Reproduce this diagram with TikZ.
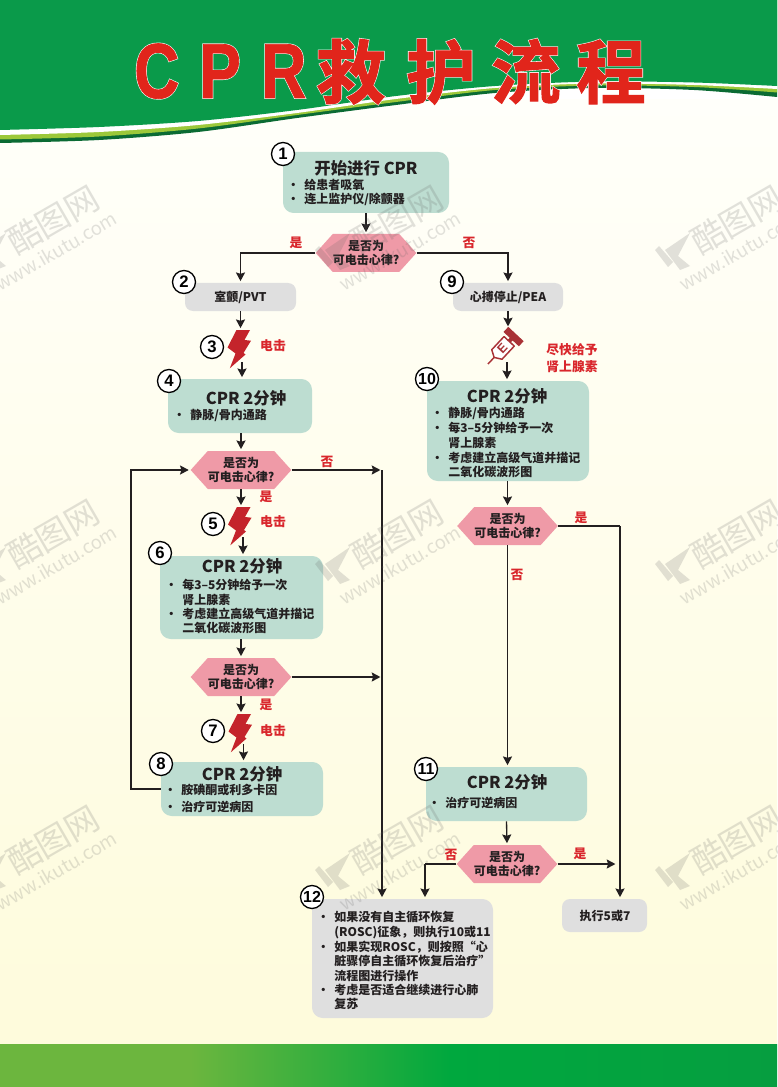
\documentclass[tikz,border=0pt]{standalone}
\usepackage{fontspec}
\usetikzlibrary{arrows.meta,shapes.symbols}
\setmainfont{Noto Sans CJK SC}
\newfontfamily\tlat{Liberation Sans Bold}[FakeStretch=0.8,FakeBold=0.9]
\newfontfamily\tlatw{Liberation Sans Bold}[FakeStretch=0.8,FakeBold=2.4]
\newfontfamily\tcjk{Noto Sans CJK SC Bold}[FakeBold=1.6]
\newfontfamily\tcjkw{Noto Sans CJK SC Bold}[FakeBold=3.2]
\newfontfamily\numf{Liberation Sans Bold}
\newdimen\px \px=0.75pt
\definecolor{hdrgreen}{HTML}{0A9A4A}
\definecolor{hdrdark}{HTML}{0B6B34}
\definecolor{hdrlime}{HTML}{9CC83A}
\definecolor{boxgreen}{HTML}{BDDDD1}
\definecolor{hexpink}{HTML}{EF9AA7}
\definecolor{boxgray}{HTML}{DFDFDF}
\definecolor{ink}{HTML}{231F20}
\definecolor{lab}{HTML}{D9262C}
\definecolor{boltred}{HTML}{C4242B}
\definecolor{syr}{HTML}{A93236}
\definecolor{pagetop}{HTML}{FFFFFA}
\definecolor{pagebot}{HTML}{FEFBDA}
\tikzset{
  gbox/.style={draw=none,fill=boxgreen,rounded corners=8pt,inner sep=0pt},
  gybox/.style={draw=none,fill=boxgray,rounded corners=8pt,inner sep=0pt},
  gysmall/.style={draw=none,fill=boxgray,rounded corners=6pt,inner sep=0pt,font=\fontsize{9}{11}\selectfont\bfseries,text=ink},
  hexa/.style={shape=signal,signal to=east and west,signal pointer angle=96,fill=hexpink,draw=none,
    minimum width=74.25pt,minimum height=28.5pt,inner sep=0pt,align=center,text=ink,
    font=\fontsize{9}{10.8}\selectfont\bfseries},
  numc/.style={circle,draw=black,line width=1pt,fill=white,inner sep=0pt,minimum size=17.25pt,
    font=\fontsize{12.5}{14}\numf,text=black},
  arr/.style={draw=ink,line width=1pt,-{Stealth[length=6.5pt,width=6.8pt,inset=1pt]},shorten >=1.2pt},
  lin/.style={draw=ink,line width=1pt},
  ttlb/.style={font=\fontsize{12.3}{15}\selectfont\bfseries,text=ink,inner sep=0pt},
  itm/.style={anchor=west,align=left,inner sep=0pt,text=ink,font=\fontsize{9}{10.9}\selectfont\bfseries},
  rlab/.style={text=lab,inner sep=0pt,align=center,font=\fontsize{9.6}{12.8}\selectfont\bfseries},
  boltnode/.style={inner sep=0pt,minimum width=17pt,minimum height=28.5pt},
  wm/.style={text=black!62,opacity=.19,inner sep=0pt},
}
\newcommand\bul{\llap{·\hspace{3.6pt}}}
\newcommand\rbox[6]{\node[#1,minimum width={(#5-#3)*0.75pt},minimum height={(#6-#4)*0.75pt}] (#2) at ({(#3+#5)/2},{(#4+#6)/2}) {};}
\newcommand\boltat[3]{%
  \node[boltnode] (#1) at (#2,{#3+19}) {};
  \fill[boltred,shift={(#2,#3)}] (-4,0)--(9.5,0)--(4,10)--(10.5,10.7)--(3,23)--(5,24.5)--(-10.7,38.3)--(-5,23.5)--(-13,17.5)--cycle;}
\newcommand\tg[2]{\makebox[#1\px][l]{#2}}
\begin{document}
\begin{tikzpicture}[x=0.75pt,y=-0.75pt]
\useasboundingbox (0,0) rectangle (777,1087);
% background
\shade[top color=pagetop,bottom color=pagebot] (0,100) rectangle (777,1087);
% header bands
\fill[hdrdark] (0,0) -- (777,0) -- plot[smooth] coordinates {(777,97)(694,90)(595,88)(495,93)(396,105)(297,118)(198,132)(99,140)(0,143)} -- cycle;
\fill[hdrlime] (0,0) -- (777,0) -- plot[smooth] coordinates {(777,92.5)(694,87)(595,85.5)(495,90)(396,102)(297,115)(198,128.5)(99,136.5)(0,139.5)} -- cycle;
\fill[white] (0,0) -- (777,0) -- plot[smooth] coordinates {(777,89)(694,85)(595,83.5)(495,88)(396,99)(297,113)(198,125)(99,132)(0,135)} -- cycle;
\fill[hdrgreen] (0,0) -- (777,0) -- plot[smooth] coordinates {(777,86)(694,82.5)(595,81.5)(495,86)(396,96)(297,110)(198,121)(99,127)(0,130)} -- cycle;
% bottom band
\fill[color={rgb,255:red,108;green,182;blue,62}] (0,1044) rectangle (190,1087);
\shade[left color={rgb,255:red,108;green,182;blue,62},right color={rgb,255:red,0;green,168;blue,62}] (190,1044) rectangle (450,1087);
\shade[left color={rgb,255:red,0;green,168;blue,62},right color={rgb,255:red,6;green,158;blue,64}] (450,1044) rectangle (777,1087);
% title
\node[anchor=base west,inner sep=0pt,text=white] (titleback) at (134,98) {\fontsize{58.5}{60}\tg{65}{\tlatw C}\tg{62}{\tlatw P}\tg{55}{\tlatw R}\fontsize{52}{60}\tg{90}{\tcjkw 救}\tg{85}{\tcjkw 护}\tg{85}{\tcjkw 流}\tg{70}{\tcjkw 程}};
\node[anchor=base west,inner sep=0pt,text={rgb,255:red,225;green,37;blue,27}] (title) at (134,98) {\fontsize{58.5}{60}\tg{65}{\tlat C}\tg{62}{\tlat P}\tg{55}{\tlat R}\fontsize{52}{60}\tg{90}{\tcjk 救}\tg{85}{\tcjk 护}\tg{85}{\tcjk 流}\tg{70}{\tcjk 程}};
% boxes
\rbox{gbox}{b1}{283}{152}{449}{213}
\rbox{gysmall}{bx2}{185}{283}{296}{311}
\rbox{gysmall}{bx9}{453}{283}{563}{311}
\rbox{gbox}{b4}{168}{379}{312}{433}
\rbox{gbox}{b10}{427}{381}{589}{481}
\rbox{gbox}{b6}{160}{556}{323}{639}
\rbox{gbox}{b8}{161}{762}{323}{816}
\rbox{gbox}{b11}{426}{767}{587}{821}
\rbox{gybox}{b12}{312}{899}{493}{1018}
\rbox{gysmall}{b57}{562}{899}{647}{932}
\node[font=\fontsize{9}{11}\selectfont\bfseries,text=ink] (t2) at (240.5,297) {室颤/PVT};
\node[font=\fontsize{9}{11}\selectfont\bfseries,text=ink] (t9) at (508,297) {心搏停止/PEA};
\node[font=\fontsize{9}{11}\selectfont\bfseries,text=ink] (t57) at (605,916) {执行5或7};
% decisions
\node[hexa] (h1) at (366,253) {是否为\\可电击心律?};
\node[hexa] (h2) at (241,470) {是否为\\可电击心律?};
\node[hexa] (h3) at (241,677) {是否为\\可电击心律?};
\node[hexa] (h4) at (507.5,526) {是否为\\可电击心律?};
\node[hexa] (h5) at (507,864) {是否为\\可电击心律?};
% bolts
\boltat{s3}{240.5}{330}
\boltat{s5}{241}{507}
\boltat{s7}{241.5}{714}
\coordinate (c3) at (242,362);
\coordinate (c5) at (243,537);
\coordinate (c7) at (243.5,744);
% syringe
\node[inner sep=0pt,minimum width=27pt,minimum height=18pt] (syringe) at (507,345) {};
\coordinate (syrin) at (508,328);
\coordinate (syrout) at (507,362);
\begin{scope}[shift={(488,364)},rotate=47]
  \draw[syr,line width=1.1pt] (0,0)--(9,0);
  \draw[syr,line width=1.1pt,fill=white,line join=round] (9,0)--(13,-7)--(31,-7)--(31,7)--(13,7)--cycle;
  \fill[syr] (31,-2)--(34,-2)--(34,-10.5)--(41,-10.5)--(41,10.5)--(34,10.5)--(34,2)--(31,2)--cycle;
  \node[rotate=47,text=syr,inner sep=0pt,font=\fontsize{9.5}{10}\numf] (syrE) at (21,0) {E};
\end{scope}
% connectors
\coordinate (j1) at (382,470);
\coordinate (j3) at (382,677);
\coordinate (j4) at (620,526);
\coordinate (j5) at (617,864);
\coordinate (j6) at (425,864);
\coordinate (lp) at (131,789);
\draw[arr] (b1.south) -- (h1.north);
\draw[arr] (h1.west) -| (bx2.north);
\draw[arr] (h1.east) -| (bx9.north);
\draw[arr] (bx2.south) -- (s3.north);
\draw[arr] (c3) -- (c3 |- b4.north);
\draw[arr] (h2.north |- b4.south) -- (h2.north);
\draw[arr] (h2.east) -- (j1);
\draw[arr] (h2.south) -- (s5.north -| h2.south);
\draw[arr] (c5) -- (c5 |- b6.north);
\draw[arr] (h3.north |- b6.south) -- (h3.north);
\draw[arr] (h3.east) -- (j3);
\draw[arr] (h3.south) -- (s7.north -| h3.south);
\draw[arr] (c7) -- (c7 |- b8.north);
\draw[arr] (b8.west) -- (lp) |- (h2.west);
\draw[arr] (j1) -- (j1 |- b12.north);
\draw[arr] (bx9.south -| syrin) -- (syrin);
\draw[arr] (syrout) -- (syrout |- b10.north);
\draw[arr] (h4.north |- b10.south) -- (h4.north);
\draw[arr] (h4.south) -- (h4.south |- b11.north);
\draw[lin] (h4.east) -- (j4);
\draw[arr] (j4) -- (j4 |- b57.north);
\draw[arr] (b11.south) -- (h5.north);
\draw[arr] (h5.east) -- (j5);
\draw[lin] (h5.west) -- (j6);
\draw[arr] (j6) -- (j6 |- b12.north);
% number badges
\node[numc] (n1) at (283,154) {1};
\node[numc] (n2) at (184,282) {2};
\node[numc] (n3) at (212,347) {3};
\node[numc] (n4) at (169,381) {4};
\node[numc] (n5) at (213,524) {5};
\node[numc] (n6) at (160,553) {6};
\node[numc] (n7) at (213,731) {7};
\node[numc] (n8) at (161,764) {8};
\node[numc] (n9) at (452,282) {9};
\node[numc,font=\fontsize{12}{14}\numf] (n10) at (427,379) {10};
\node[numc,font=\fontsize{12}{14}\numf] (n11) at (426,769) {11};
\node[numc,font=\fontsize{12}{14}\numf] (n12) at (312,897) {12};
% titles
\node[ttlb] (t1) at (366,168) {开始进行 CPR};
\node[ttlb] (t4) at (246,398) {CPR 2分钟};
\node[ttlb] (t10) at (507,396) {CPR 2分钟};
\node[ttlb] (t6) at (242,566) {CPR 2分钟};
\node[ttlb] (t8) at (242,774) {CPR 2分钟};
\node[ttlb] (t11) at (507,782) {CPR 2分钟};
% body text
\node[itm] (i11) at (304,185) {\bul 给患者吸氧};
\node[itm] (i12) at (304,199) {\bul 连上监护仪/除颤器};
\node[itm] (i41) at (190,415) {\bul 静脉/骨内通路};
\node[itm] (i101) at (448,413) {\bul 静脉/骨内通路};
\node[itm] (i102) at (448,435.5) {\bul 每3–5分钟给予一次\\肾上腺素};
\node[itm] (i103) at (448,465) {\bul 考虑建立高级气道并描记\\二氧化碳波形图};
\node[itm] (i61) at (182,592.5) {\bul 每3–5分钟给予一次\\肾上腺素};
\node[itm] (i62) at (182,621) {\bul 考虑建立高级气道并描记\\二氧化碳波形图};
\node[itm] (i81) at (181,790) {\bul 胺碘酮或利多卡因};
\node[itm] (i82) at (181,807) {\bul 治疗可逆病因};
\node[itm] (i111) at (445,803) {\bul 治疗可逆病因};
\node[itm] (i121) at (334,925) {\bul 如果没有自主循环恢复\\(ROSC)征象，则执行10或11};
\node[itm] (i122) at (334,961) {\bul 如果实现ROSC，则按照“心\\脏骤停自主循环恢复后治疗”\\流程图进行操作};
\node[itm] (i123) at (334,997) {\bul 考虑是否适合继续进行心肺\\复苏};
% red labels
\node[rlab] (l1) at (296,243) {是};
\node[rlab] (l2) at (469,243) {否};
\node[rlab] (l3) at (273,346) {电击};
\node[rlab] (l4) at (572,358) {尽快给予\\肾上腺素};
\node[rlab] (l5) at (327,462) {否};
\node[rlab] (l6) at (266,497) {是};
\node[rlab] (l7) at (273,522) {电击};
\node[rlab] (l8) at (266,705) {是};
\node[rlab] (l9) at (273,731) {电击};
\node[rlab] (l10) at (581,518) {是};
\node[rlab] (l11) at (517,575) {否};
\node[rlab] (l12) at (580,854) {是};
\node[rlab] (l13) at (451,855) {否};
% watermarks
\foreach \dx in {-344,0,340}{\foreach \dy in {0,314,620}{
  \begin{scope}[shift={(\dx,\dy)}]
    \fill[black!62,opacity=.19] (315,250)--(319,246)--(333,262)--(328,267)--cycle;
    \fill[black!62,opacity=.19] (325,250)--(350,233)--(338,256)--(350,266)--(340,270)--cycle;
    \node[wm,rotate=30,font=\fontsize{25}{27}\selectfont] at (397,220) {酷图网};
    \node[wm,rotate=30,font=\fontsize{14}{16}\selectfont] at (400,251) {www.ikutu.com};
  \end{scope}
}}
\end{tikzpicture}
\end{document}
